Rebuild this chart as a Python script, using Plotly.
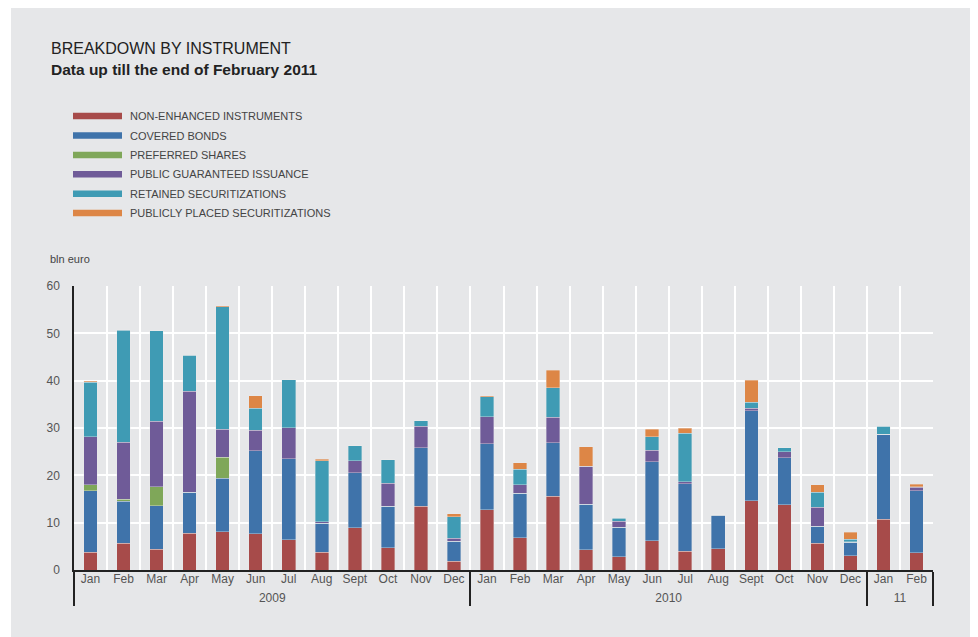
import plotly.graph_objects as go

years = ["2009"] * 12 + ["2010"] * 12 + ["11"] * 2
months = ["Jan", "Feb", "Mar", "Apr", "May", "Jun", "Jul", "Aug", "Sept", "Oct", "Nov", "Dec",
          "Jan", "Feb", "Mar", "Apr", "May", "Jun", "Jul", "Aug", "Sept", "Oct", "Nov", "Dec",
          "Jan", "Feb"]

non_enhanced = [3.7, 5.7, 4.4, 7.8, 8.1, 7.7, 6.4, 3.8, 8.9, 4.7, 13.5, 1.8,
                12.7, 6.8, 15.6, 4.3, 2.8, 6.2, 4.0, 4.5, 14.6, 13.8, 5.7, 3.0,
                10.7, 3.6]
covered_bonds = [13.0, 8.8, 9.2, 8.6, 11.3, 17.5, 17.1, 6.1, 11.6, 8.8, 12.3, 4.3,
                 14.0, 9.4, 11.3, 9.6, 6.2, 16.7, 14.2, 7.1, 19.0, 9.9, 3.5, 2.9,
                 18.0, 13.1]
preferred = [1.3, 0.5, 4.0, 0, 4.4, 0, 0, 0, 0, 0, 0, 0,
             0, 0, 0, 0, 0, 0, 0, 0, 0, 0, 0, 0,
             0, 0]
public_guar = [10.1, 12.0, 13.8, 21.4, 5.9, 4.3, 6.6, 0.3, 2.6, 4.8, 4.6, 0.6,
               5.7, 1.8, 5.4, 8.0, 1.3, 2.4, 0.4, 0.1, 0.6, 1.3, 4.1, 0.1,
               0, 0.8]
retained = [11.6, 23.7, 19.1, 7.6, 25.9, 4.7, 10.1, 12.9, 3.2, 5.0, 1.1, 4.5,
            4.2, 3.3, 6.2, 0, 0.6, 2.9, 10.3, 0, 1.2, 0.8, 3.1, 0.5,
            1.7, 0.1]
public_placed = [0.2, 0.1, 0, 0, 0.2, 2.6, 0, 0.3, 0, 0, 0, 0.7,
                 0.2, 1.4, 3.7, 4.1, 0.1, 1.5, 1.0, 0, 4.7, 0, 1.6, 1.5,
                 0, 0.5]

series = [
    ("NON-ENHANCED INSTRUMENTS", non_enhanced, "#a74b4a"),
    ("COVERED BONDS", covered_bonds, "#3f73aa"),
    ("PREFERRED SHARES", preferred, "#7fa759"),
    ("PUBLIC GUARANTEED ISSUANCE", public_guar, "#6f5b98"),
    ("RETAINED SECURITIZATIONS", retained, "#3f9bb4"),
    ("PUBLICLY PLACED SECURITIZATIONS", public_placed, "#dd8646"),
]

FONT = "Liberation Sans, Arial, sans-serif"
BG = "#e6e7e9"

fig = go.Figure()
for name, vals, col in series:
    fig.add_trace(go.Bar(
        x=[years, months], y=vals, name=name,
        marker=dict(color=col, line=dict(color="rgba(235,235,235,0.6)", width=0.6)),
        showlegend=False,
    ))

OFF = 8  # page body margin
W, H = 978 - OFF, 637 - OFF
ML, MR, MT, MB = 66, 45, 278, 67
PW, PH = W - ML - MR, H - MT - MB


def px2x(x):
    return (x - OFF - ML) / PW


def px2y(y):
    return (H - MB - (y - OFF)) / PH


shapes = [dict(type="rect", xref="paper", yref="paper",
               x0=px2x(11), x1=px2x(990), y0=px2y(6), y1=px2y(650),
               fillcolor=BG, line=dict(width=0), layer="below")]
annotations = [
    dict(text="BREAKDOWN BY INSTRUMENT", x=px2x(49), y=px2y(48), xref="paper", yref="paper",
         xanchor="left", yanchor="middle", showarrow=False,
         font=dict(family=FONT, size=16, color="#222222")),
    dict(text="<b>Data up till the end of February 2011</b>", x=px2x(49), y=px2y(69),
         xref="paper", yref="paper", xanchor="left", yanchor="middle", showarrow=False,
         font=dict(family=FONT, size=15.5, color="#222222")),
    dict(text="bln euro", x=px2x(48), y=px2y(259), xref="paper", yref="paper",
         xanchor="left", yanchor="middle", showarrow=False,
         font=dict(family=FONT, size=11, color="#444444")),
]

leg_y = [116, 135.5, 155, 174.3, 193.7, 213]
for (name, vals, col), ly in zip(series, leg_y):
    shapes.append(dict(type="rect", xref="paper", yref="paper",
                       x0=px2x(73), x1=px2x(122), y0=px2y(ly + 3.3), y1=px2y(ly - 3.3),
                       fillcolor=col, line=dict(width=0)))
    annotations.append(dict(text=name, x=px2x(128), y=px2y(ly), xref="paper", yref="paper",
                            xanchor="left", yanchor="middle", showarrow=False,
                            font=dict(family=FONT, size=11, color="#444444")))

fig.update_layout(
    width=W, height=H,
    margin=dict(l=ML, r=MR, t=MT, b=MB),
    paper_bgcolor="white", plot_bgcolor=BG,
    barmode="stack", bargap=0.59,
    showlegend=False,
    shapes=shapes, annotations=annotations,
    font=dict(family=FONT, size=12, color="#555555"),
    xaxis=dict(
        type="multicategory", tickson="boundaries", showgrid=True, tickangle=0,
        gridcolor="white", gridwidth=2, showline=True, linecolor="#222222", linewidth=1.5,
        ticks="", showdividers=True, dividercolor="#222222", dividerwidth=1.5,
        ticklabelstandoff=-3,
        tickfont=dict(family=FONT, size=12, color="#555555"),
    ),
    yaxis=dict(
        range=[0, 60], dtick=10, showgrid=True, gridcolor="white", gridwidth=2,
        showline=True, linecolor="#222222", linewidth=1.5, zeroline=False, ticks="",
        ticklabelstandoff=10,
        tickfont=dict(family=FONT, size=12, color="#555555"),
    ),
)

fig.write_html("out.html")
